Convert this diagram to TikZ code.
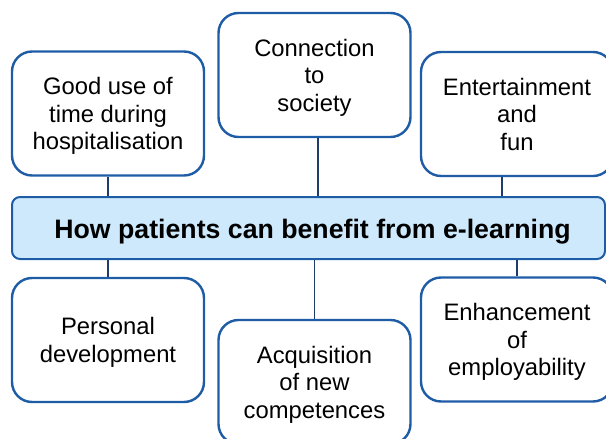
\documentclass[tikz,border=0pt]{standalone}
\usepackage{fontspec}
\setmainfont{Liberation Sans}
\definecolor{boxline}{HTML}{1F5CA6}
\definecolor{linkline}{HTML}{1F3B6B}
\definecolor{barfill}{HTML}{CDE9FB}
\begin{document}
\begin{tikzpicture}[x=1pt,y=-1pt,
  benefit/.style={draw=boxline, line width=2.4pt, rounded corners=20pt, fill=white,
    minimum width=192pt, minimum height=124pt, inner sep=0pt, align=center,
    text depth=0pt, font=\fontsize{23.8}{27.5}\selectfont},
  titlebar/.style={draw=boxline, line width=2pt, rounded corners=8pt, fill=barfill,
    minimum width=593pt, minimum height=62pt, inner sep=0pt},
  titlefont/.style={inner sep=0pt, text depth=0pt, font=\fontsize{26.7}{30}\selectfont\bfseries},
  link/.style={draw=linkline, line width=1.6pt}]
\useasboundingbox (0,0) rectangle (606,439);
\clip (0,0) rectangle (606,439);

% central question
\node[titlebar] (title) at (308.5,228) {};
\node[titlefont] (titletext) at (312.5,228.5) {How patients can benefit from e-learning};

% benefits above the bar
\node[benefit] (good) at (108,113.5) {Good use of\\time during\\hospitalisation};
\node[benefit] (conn) at (314.5,75) {Connection\\to\\society};
\node[benefit] (ent) at (517,114) {Entertainment\\and\\fun};

% benefits below the bar
\node[benefit] (pers) at (108,340) {Personal\\development};
\node[benefit] (acq) at (314.5,382) {Acquisition\\of new\\competences};
\node[benefit] (enh) at (517,339.5) {Enhancement\\of\\employability};

% connectors
\draw[link] (good.south) -- (good.south |- title.north);
\draw[link] ([xshift=3.5pt]conn.south) -- ([xshift=3.5pt]conn.south |- title.north);
\draw[link] ([xshift=-15pt]ent.south) -- ([xshift=-15pt]ent.south |- title.north);
\draw[link] (pers.north) -- (pers.north |- title.south);
\draw[link] (acq.north) -- (acq.north |- title.south);
\draw[link] (enh.north) -- (enh.north |- title.south);
\end{tikzpicture}
\end{document}
